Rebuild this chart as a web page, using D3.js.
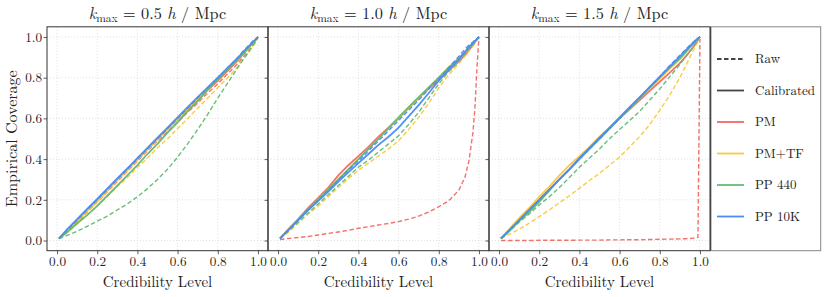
<!DOCTYPE html>
<html>
<head>
<meta charset="utf-8">
<script src="https://cdn.jsdelivr.net/npm/d3@7"></script>
</head>
<body style="margin:0;padding:0;background:#fff">
<svg id="chart" width="830" height="297" font-family="Latin Modern Roman" style="display:block"></svg>
<script>
// ---------------- DATA ----------------
const credLevels = [0.01,0.05,0.1,0.15,0.2,0.25,0.3,0.35,0.4,0.45,0.5,0.55,0.6,0.65,0.7,0.75,0.8,0.85,0.9,0.93,0.95,0.97,0.98,0.99,1.0];
const kmaxValues = ["0.5", "1.0", "1.5"];
const methods = ["PM", "PM+TF", "PP 440", "PP 10K"];
const methodColors = ["#f06a62", "#fcc73a", "#62bb72", "#4a8cf2"];
const tickValues = [0.0, 0.2, 0.4, 0.6, 0.8, 1.0];

// k_max = 0.5
const pmRawK05   = [0.01,0.045,0.09,0.14,0.19,0.24,0.29,0.34,0.39,0.44,0.49,0.535,0.58,0.63,0.675,0.725,0.77,0.82,0.87,0.905,0.93,0.955,0.97,0.985,1.0];
const pmCalK05   = [0.01,0.05,0.10,0.15,0.20,0.25,0.30,0.35,0.40,0.45,0.50,0.55,0.595,0.64,0.69,0.74,0.785,0.835,0.885,0.92,0.945,0.965,0.975,0.988,1.0];
const tfRawK05   = [0.01,0.04,0.08,0.125,0.17,0.215,0.265,0.31,0.36,0.405,0.455,0.50,0.55,0.60,0.65,0.70,0.75,0.80,0.855,0.895,0.92,0.95,0.965,0.98,1.0];
const tfCalK05   = [0.01,0.045,0.095,0.145,0.19,0.245,0.295,0.345,0.395,0.445,0.495,0.545,0.595,0.645,0.695,0.745,0.795,0.845,0.89,0.925,0.945,0.965,0.975,0.988,1.0];
const p440RawK05 = [0.01,0.025,0.045,0.07,0.095,0.12,0.15,0.18,0.215,0.255,0.30,0.35,0.41,0.475,0.545,0.62,0.70,0.775,0.85,0.895,0.92,0.95,0.963,0.978,1.0];
const p440CalK05 = [0.01,0.04,0.085,0.125,0.17,0.22,0.27,0.32,0.37,0.425,0.475,0.53,0.58,0.635,0.685,0.74,0.79,0.84,0.89,0.92,0.945,0.965,0.975,0.988,1.0];
const p10kRawK05 = [0.01,0.05,0.10,0.15,0.20,0.25,0.30,0.35,0.40,0.45,0.50,0.55,0.60,0.65,0.70,0.75,0.80,0.85,0.90,0.935,0.955,0.975,0.985,0.992,1.0];
const p10kCalK05 = [0.01,0.055,0.105,0.155,0.205,0.255,0.305,0.355,0.405,0.455,0.505,0.555,0.605,0.655,0.705,0.752,0.80,0.85,0.898,0.93,0.95,0.97,0.98,0.99,1.0];

// k_max = 1.0
const pmRawK10   = [0.005,0.01,0.015,0.02,0.027,0.035,0.042,0.05,0.06,0.068,0.076,0.084,0.093,0.105,0.12,0.14,0.166,0.195,0.248,0.31,0.39,0.53,0.65,0.85,1.0];
const pmCalK10   = [0.01,0.055,0.105,0.16,0.21,0.26,0.32,0.37,0.415,0.46,0.51,0.555,0.60,0.65,0.70,0.745,0.79,0.835,0.88,0.91,0.935,0.96,0.975,0.988,1.0];
const tfRawK10   = [0.01,0.04,0.085,0.13,0.17,0.215,0.26,0.305,0.345,0.38,0.415,0.45,0.49,0.545,0.605,0.675,0.75,0.815,0.87,0.905,0.93,0.955,0.97,0.985,1.0];
const tfCalK10   = [0.01,0.05,0.10,0.15,0.20,0.25,0.30,0.35,0.40,0.45,0.50,0.55,0.60,0.65,0.70,0.75,0.80,0.85,0.895,0.925,0.95,0.97,0.98,0.99,1.0];
const p440RawK10 = [0.01,0.045,0.09,0.135,0.18,0.225,0.27,0.315,0.36,0.395,0.435,0.475,0.515,0.57,0.63,0.70,0.77,0.83,0.88,0.915,0.94,0.96,0.975,0.988,1.0];
const p440CalK10 = [0.01,0.05,0.10,0.15,0.20,0.25,0.30,0.35,0.40,0.45,0.50,0.553,0.605,0.655,0.705,0.752,0.80,0.85,0.895,0.925,0.95,0.97,0.98,0.99,1.0];
const p10kRawK10 = [0.01,0.05,0.10,0.15,0.20,0.245,0.295,0.345,0.39,0.44,0.49,0.54,0.59,0.64,0.69,0.745,0.795,0.85,0.905,0.94,0.96,0.975,0.985,0.992,1.0];
const p10kCalK10 = [0.01,0.05,0.10,0.15,0.195,0.24,0.29,0.335,0.38,0.425,0.47,0.51,0.555,0.61,0.665,0.725,0.785,0.84,0.89,0.925,0.95,0.97,0.98,0.99,1.0];

// k_max = 1.5
const pmRawK15   = [0.0,0.0,0.0,0.0,0.001,0.001,0.001,0.001,0.002,0.002,0.002,0.003,0.003,0.004,0.004,0.005,0.006,0.007,0.008,0.009,0.010,0.012,0.013,0.015,0.99];
const pmCalK15   = [0.01,0.05,0.10,0.15,0.20,0.25,0.30,0.35,0.40,0.45,0.50,0.55,0.60,0.645,0.69,0.735,0.78,0.825,0.872,0.905,0.93,0.955,0.97,0.985,1.0];
const tfRawK15   = [0.01,0.03,0.055,0.085,0.117,0.15,0.185,0.22,0.256,0.295,0.33,0.37,0.41,0.46,0.51,0.57,0.64,0.715,0.80,0.86,0.90,0.94,0.96,0.975,0.99];
const tfCalK15   = [0.01,0.055,0.11,0.16,0.215,0.265,0.32,0.37,0.415,0.46,0.51,0.555,0.60,0.65,0.70,0.75,0.795,0.845,0.89,0.925,0.95,0.97,0.98,0.99,1.0];
const p440RawK15 = [0.01,0.045,0.09,0.13,0.175,0.215,0.26,0.31,0.36,0.405,0.45,0.50,0.545,0.59,0.635,0.69,0.745,0.805,0.865,0.905,0.93,0.955,0.97,0.985,1.0];
const p440CalK15 = [0.01,0.045,0.095,0.14,0.19,0.245,0.30,0.35,0.40,0.45,0.50,0.55,0.60,0.65,0.70,0.75,0.80,0.85,0.895,0.925,0.95,0.97,0.98,0.99,1.0];
const p10kRawK15 = [0.01,0.05,0.10,0.15,0.20,0.25,0.30,0.35,0.40,0.45,0.50,0.55,0.60,0.65,0.70,0.755,0.805,0.86,0.91,0.94,0.96,0.978,0.988,0.995,1.0];
const p10kCalK15 = [0.01,0.05,0.10,0.15,0.20,0.25,0.30,0.35,0.405,0.455,0.505,0.555,0.605,0.655,0.705,0.755,0.805,0.855,0.905,0.935,0.955,0.975,0.985,0.992,1.0];

const rawSeries = [
  [pmRawK05, tfRawK05, p440RawK05, p10kRawK05],
  [pmRawK10, tfRawK10, p440RawK10, p10kRawK10],
  [pmRawK15, tfRawK15, p440RawK15, p10kRawK15]
];
const calSeries = [
  [pmCalK05, tfCalK05, p440CalK05, p10kCalK05],
  [pmCalK10, tfCalK10, p440CalK10, p10kCalK10],
  [pmCalK15, tfCalK15, p440CalK15, p10kCalK15]
];

// ---------------- LAYOUT ----------------
const FONT = "Latin Modern Roman";
const TXT = "#222";
const svg = d3.select("#chart");
const plotTop = 26.8, plotBottom = 250.7;
const panelLeft = [47, 268, 489];
const panelW = 221;

const y = d3.scaleLinear().domain([-0.05, 1.05]).range([plotBottom, plotTop]);

panelLeft.forEach((x0, pi) => {
  const x = d3.scaleLinear().domain([-0.05, 1.05]).range([x0, x0 + panelW]);
  const g = svg.append("g");

  // grid
  g.append("g").selectAll("line").data(tickValues).join("line")
    .attr("x1", d => x(d)).attr("x2", d => x(d))
    .attr("y1", plotTop).attr("y2", plotBottom)
    .attr("stroke", "#d8d8d8").attr("stroke-width", 0.8).attr("stroke-dasharray", "1,2");
  g.append("g").selectAll("line").data(tickValues).join("line")
    .attr("y1", d => y(d)).attr("y2", d => y(d))
    .attr("x1", x0).attr("x2", x0 + panelW)
    .attr("stroke", "#d8d8d8").attr("stroke-width", 0.8).attr("stroke-dasharray", "1,2");

  const line = d3.line().x((d, i) => x(credLevels[i])).y(d => y(d));

  methods.forEach((m, mi) => {
    g.append("path").datum(rawSeries[pi][mi])
      .attr("d", line).attr("fill", "none")
      .attr("stroke", methodColors[mi]).attr("stroke-width", 1.4)
      .attr("stroke-dasharray", "4.5,2.5").attr("opacity", 0.95);
    g.append("path").datum(calSeries[pi][mi])
      .attr("d", line).attr("fill", "none")
      .attr("stroke", methodColors[mi]).attr("stroke-width", 1.8)
      .attr("opacity", 0.95);
  });

  // axes
  const xAxis = d3.axisBottom(x).tickValues(tickValues).tickSize(3.5).tickPadding(2).tickFormat(d3.format(".1f"));
  const xa = g.append("g").attr("transform", `translate(0,${plotBottom})`).call(xAxis)
    .attr("font-family", FONT);
  xa.select(".domain").remove();
  xa.selectAll("line").attr("stroke", "#333").attr("stroke-width", 0.8);
  xa.selectAll("text").attr("font-size", 13.2).attr("font-family", FONT).attr("fill", TXT);

  const yAxis = d3.axisLeft(y).tickValues(tickValues).tickSize(3.5).tickPadding(1.5)
    .tickFormat(pi === 0 ? d3.format(".1f") : () => "");
  const ya = g.append("g").attr("transform", `translate(${x0},0)`).call(yAxis)
    .attr("font-family", FONT);
  ya.select(".domain").remove();
  ya.selectAll("line").attr("stroke", "#333").attr("stroke-width", 0.8);
  ya.selectAll("text").attr("font-size", 13.2).attr("font-family", FONT).attr("fill", TXT);

  // frame
  g.append("rect").attr("x", x0).attr("y", plotTop).attr("width", panelW).attr("height", plotBottom - plotTop)
    .attr("fill", "none").attr("stroke", "#333").attr("stroke-width", 1);

  // title
  const t = g.append("text").attr("x", x0 + panelW / 2).attr("y", 19)
    .attr("text-anchor", "middle").attr("font-size", 16.3).attr("font-family", FONT).attr("fill", TXT);
  t.append("tspan").attr("font-style", "italic").text("k");
  t.append("tspan").attr("font-size", 11.5).attr("dy", 3).text("max");
  t.append("tspan").attr("dy", -3).text(" = " + kmaxValues[pi] + " ");
  t.append("tspan").attr("font-style", "italic").text("h");
  t.append("tspan").text(" / Mpc");

  // x label
  g.append("text").attr("x", x0 + panelW / 2).attr("y", 287)
    .attr("text-anchor", "middle").attr("font-size", 15).attr("font-family", FONT).attr("fill", TXT)
    .text("Credibility Level");
});

// y label
svg.append("text").attr("transform", `translate(17,${(plotTop + plotBottom) / 2}) rotate(-90)`)
  .attr("text-anchor", "middle").attr("font-size", 16).attr("font-family", FONT).attr("fill", TXT)
  .text("Empirical Coverage");

// ---------------- LEGEND ----------------
const lg = svg.append("g");
lg.append("rect").attr("x", 710.7).attr("y", plotTop).attr("width", 110).attr("height", plotBottom - plotTop)
  .attr("fill", "#fff").attr("stroke", "#888").attr("stroke-width", 1);
lg.append("line").attr("x1", 710.7).attr("x2", 710.7).attr("y1", plotTop).attr("y2", plotBottom)
  .attr("stroke", "#333").attr("stroke-width", 1);
const legendItems = [
  { label: "Raw", color: "#444", dash: "4.5,2.5" },
  { label: "Calibrated", color: "#444", dash: null }
].concat(methods.map((m, i) => ({ label: m, color: methodColors[i], dash: null })));
const legendY = d3.scaleLinear().domain([0, legendItems.length - 1]).range([59, 216.5]);
legendItems.forEach((it, i) => {
  const yy = legendY(i);
  lg.append("line").attr("x1", 717).attr("x2", 744).attr("y1", yy).attr("y2", yy)
    .attr("stroke", it.color).attr("stroke-width", 1.8)
    .attr("stroke-dasharray", it.dash);
  lg.append("text").attr("x", 755).attr("y", yy).attr("dy", "0.33em")
    .attr("font-size", 13).attr("font-family", FONT).attr("fill", TXT).text(it.label);
});
</script>
</body>
</html>
